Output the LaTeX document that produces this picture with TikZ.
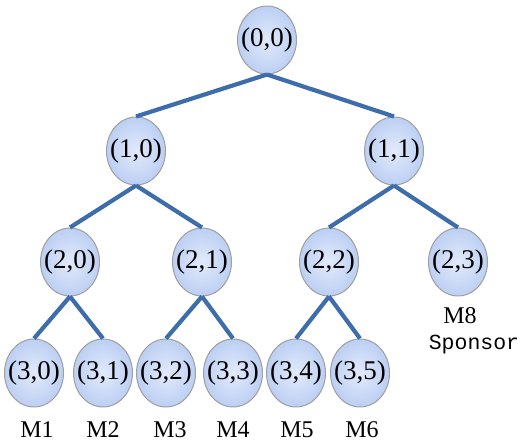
\documentclass[tikz,border=0pt]{standalone}
\usepackage{fontspec}
\setmainfont{Liberation Serif}
\setmonofont{Liberation Mono}
\usetikzlibrary{shapes.geometric}
\definecolor{edgeblue}{HTML}{3D6DAB}
\definecolor{nodeinner}{HTML}{E2EAFB}
\definecolor{nodeouter}{HTML}{BCCFF3}
\begin{document}
\begin{tikzpicture}[
    x=1pt, y=-1pt,
    tnode/.style={ellipse,draw=gray!75,line width=1pt,inner color=nodeinner,outer color=nodeouter,
        minimum width=59pt,minimum height=68pt,inner sep=0pt,font=\fontsize{27}{27}\selectfont},
    edge/.style={draw=edgeblue,line width=4.2pt},
    mlabel/.style={font=\fontsize{24}{24}\selectfont},
]
\useasboundingbox (0,0) rectangle (523,443);

% Poziom 0
\node[tnode] (n00) at (267,40) {\makebox[0pt]{(0,0)}};

% Poziom 1
\node[tnode] (n10) at (136,151) {\makebox[0pt]{(1,0)}};
\node[tnode] (n11) at (394,151) {\makebox[0pt]{(1,1)}};

% Poziom 2
\node[tnode] (n20) at (70,262) {\makebox[0pt]{(2,0)}};
\node[tnode] (n21) at (202,262) {\makebox[0pt]{(2,1)}};
\node[tnode] (n22) at (329,262) {\makebox[0pt]{(2,2)}};
\node[tnode] (n23) at (458,262) {\makebox[0pt]{(2,3)}};

% Poziom 3 (liście)
\node[tnode] (n30) at (34,373) {\makebox[0pt]{(3,0)}};
\node[tnode] (n31) at (103,373) {\makebox[0pt]{(3,1)}};
\node[tnode] (n32) at (166,373) {\makebox[0pt]{(3,2)}};
\node[tnode] (n33) at (233,373) {\makebox[0pt]{(3,3)}};
\node[tnode] (n34) at (296,373) {\makebox[0pt]{(3,4)}};
\node[tnode] (n35) at (360,373) {\makebox[0pt]{(3,5)}};

% Etykiety członków
\node[mlabel] (m1) at (37,430) {M1};
\node[mlabel] (m2) at (103,430) {M2};
\node[mlabel] (m3) at (170,430) {M3};
\node[mlabel] (m4) at (233,430) {M4};
\node[mlabel] (m5) at (297,430) {M5};
\node[mlabel] (m6) at (362,430) {M6};
\node[mlabel] (m8) at (460,316) {M8};
\node[font=\ttfamily\fontsize{21.5}{21.5}\selectfont] (sp) at (474,345) {Sponsor};

% Krawędzie
\draw[edge] (n00.south) -- (n10.north);
\draw[edge] (n00.south) -- (n11.north);

\draw[edge] (n10.south) -- (n20.north);
\draw[edge] (n10.south) -- (n21.north);
\draw[edge] (n11.south) -- (n22.north);
\draw[edge] (n11.south) -- (n23.north);

\draw[edge] (n20.south) -- (n30.north);
\draw[edge] (n20.south) -- (n31.north);
\draw[edge] (n21.south) -- (n32.north);
\draw[edge] (n21.south) -- (n33.north);
\draw[edge] (n22.south) -- (n34.north);
\draw[edge] (n22.south) -- (n35.north);

\end{tikzpicture}
\end{document}
